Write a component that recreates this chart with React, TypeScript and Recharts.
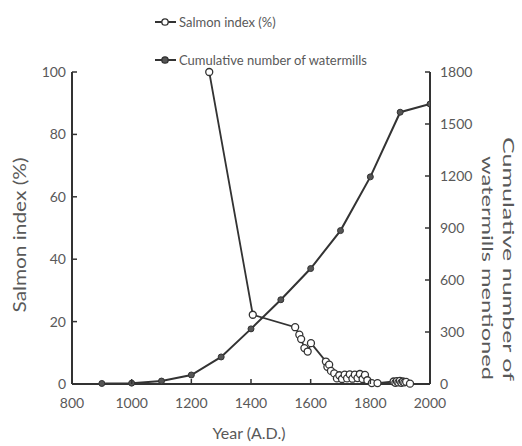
import { Label, Legend, Line, LineChart, XAxis, YAxis } from 'recharts';

const yearTicks = [800, 1000, 1200, 1400, 1600, 1800, 2000];
const salmonTicks = [0, 20, 40, 60, 80, 100];
const millTicks = [0, 300, 600, 900, 1200, 1500, 1800];

const millYears = [900, 1000, 1100, 1200, 1300, 1400, 1500, 1600, 1700, 1800, 1900, 2000];
const millCounts = [3, 5, 17, 52, 156, 318, 486, 666, 885, 1195, 1568, 1615];

const salmonYears = [
  1260, 1406, 1548, 1562, 1568, 1579, 1590, 1601, 1651, 1656, 1662, 1668, 1679,
  1688, 1696, 1705, 1714, 1722, 1731, 1740, 1748, 1757, 1765, 1774, 1782, 1790,
  1805, 1824, 1878, 1884, 1889, 1894, 1899, 1904, 1909, 1914, 1920, 1933,
];
const salmonIndex = [
  100, 22.2, 18.2, 15.8, 14.4, 11.5, 10.4, 13.1, 7.2, 5.5, 6.2, 4.2, 3.4,
  1.8, 2.8, 1.6, 3.0, 1.8, 3.1, 1.7, 3.0, 1.9, 3.2, 1.6, 2.9, 1.2,
  0.3, 0.3, 0.8, 0.4, 0.9, 0.5, 1.0, 0.4, 0.8, 0.5, 0.7, 0.1,
];

const millData = millYears.map((year, i) => ({ year, mills: millCounts[i] }));
const salmonData = salmonYears.map((year, i) => ({ year, salmon: salmonIndex[i] }));

const ink = '#333333';
const textGray = '#595959';
const font = 'Lato, "Open Sans", sans-serif';

const XTick = (props: any) => {
  const { x, y, payload } = props;
  const axisY = y - 14;
  return (
    <g>
      <line x1={x} x2={x} y1={axisY} y2={axisY - 5} stroke={ink} strokeWidth={1.5} />
      <text x={x} y={y} dy="0.71em" textAnchor="middle" fill={textGray} fontSize={14} fontFamily={font}>
        {payload.value}
      </text>
    </g>
  );
};

const LeftTick = (props: any) => {
  const { x, y, payload } = props;
  const axisX = x + 6;
  return (
    <g>
      <line x1={axisX} x2={axisX + 5} y1={y} y2={y} stroke={ink} strokeWidth={1.5} />
      <text x={x} y={y} dy="0.355em" textAnchor="end" fill={textGray} fontSize={14} fontFamily={font}>
        {payload.value}
      </text>
    </g>
  );
};

const RightTick = (props: any) => {
  const { x, y, payload } = props;
  const axisX = x - 10;
  return (
    <g>
      <line x1={axisX} x2={axisX - 5} y1={y} y2={y} stroke={ink} strokeWidth={1.5} />
      <text x={x} y={y} dy="0.355em" textAnchor="start" fill={textGray} fontSize={14} fontFamily={font}>
        {payload.value}
      </text>
    </g>
  );
};

const legendItems = [
  { label: 'Salmon index (%)', fill: '#fff' },
  { label: 'Cumulative number of watermills', fill: '#555' },
];

const renderLegend = () => (
  <div style={{ position: 'relative', fontFamily: font, fontSize: 13, color: textGray }}>
    {legendItems.map((item, i) => (
      <div
        key={item.label}
        style={{ position: 'absolute', left: 0, top: i * 38, height: 20, display: 'flex', alignItems: 'center', whiteSpace: 'nowrap' }}
      >
        <svg width={24} height={20} style={{ marginRight: 1 }}>
          <line x1={1} x2={22} y1={10} y2={10} stroke={ink} strokeWidth={2} />
          <circle cx={11} cy={10} r={3.2} fill={item.fill} stroke={ink} strokeWidth={1.3} />
        </svg>
        <span>{item.label}</span>
      </div>
    ))}
  </div>
);

export default function App() {
  return (
    <div style={{ position: 'absolute', left: 0, top: 0 }}>
      <LineChart width={522} height={446} margin={{ top: 72, right: 32, bottom: 32, left: 12 }}>
        <XAxis
          type="number"
          dataKey="year"
          domain={[800, 2000]}
          ticks={yearTicks}
          allowDataOverflow
          height={30}
          tickSize={0}
          tickMargin={14}
          tick={<XTick />}
          axisLine={{ stroke: ink, strokeWidth: 2 }}
        >
          <Label
            content={() => (
              <text x={249} y={435} textAnchor="middle" dominantBaseline="middle" fill={textGray} fontSize={16} fontFamily={font}>
                Year (A.D.)
              </text>
            )}
          />
        </XAxis>
        <YAxis
          yAxisId="left"
          domain={[0, 100]}
          ticks={salmonTicks}
          width={60}
          tickSize={0}
          tickMargin={6}
          tick={<LeftTick />}
          axisLine={{ stroke: ink, strokeWidth: 2 }}
        >
          <Label
            content={() => (
              <text
                x={22}
                y={235}
                transform="rotate(-90 22 235)"
                textAnchor="middle"
                dominantBaseline="middle"
                fill={textGray}
                fontSize={17}
                fontFamily={font}
                textLength={155}
                lengthAdjust="spacingAndGlyphs"
              >
                Salmon index (%)
              </text>
            )}
          />
        </YAxis>
        <YAxis
          yAxisId="right"
          orientation="right"
          domain={[0, 1800]}
          ticks={millTicks}
          width={60}
          tickSize={0}
          tickMargin={10}
          tick={<RightTick />}
          axisLine={{ stroke: ink, strokeWidth: 2 }}
        >
          <Label
            content={() => (
              <g fill={textGray} fontSize={16} fontFamily={font}>
                <text
                  x={507}
                  y={259}
                  transform="rotate(90 507 259)"
                  textAnchor="middle"
                  dominantBaseline="middle"
                  textLength={244}
                  lengthAdjust="spacingAndGlyphs"
                >
                  Cumulative number of
                </text>
                <text
                  x={486}
                  y={268}
                  transform="rotate(90 486 268)"
                  textAnchor="middle"
                  dominantBaseline="middle"
                  textLength={224}
                  lengthAdjust="spacingAndGlyphs"
                >
                  watermills mentioned
                </text>
              </g>
            )}
          />
        </YAxis>
        <Legend
          layout="vertical"
          align="center"
          verticalAlign="middle"
          wrapperStyle={{ left: 154, top: 12, width: 300, height: 70 }}
          content={renderLegend}
        />
        <Line
          yAxisId="right"
          data={millData}
          dataKey="mills"
          name="Cumulative number of watermills"
          stroke={ink}
          strokeWidth={2}
          dot={{ r: 3, fill: '#555', stroke: ink, strokeWidth: 1 }}
          isAnimationActive={false}
        />
        <Line
          yAxisId="left"
          data={salmonData}
          dataKey="salmon"
          name="Salmon index (%)"
          stroke={ink}
          strokeWidth={1.8}
          dot={{ r: 3.5, fill: '#fff', stroke: ink, strokeWidth: 1.3 }}
          isAnimationActive={false}
        />
      </LineChart>
    </div>
  );
}
